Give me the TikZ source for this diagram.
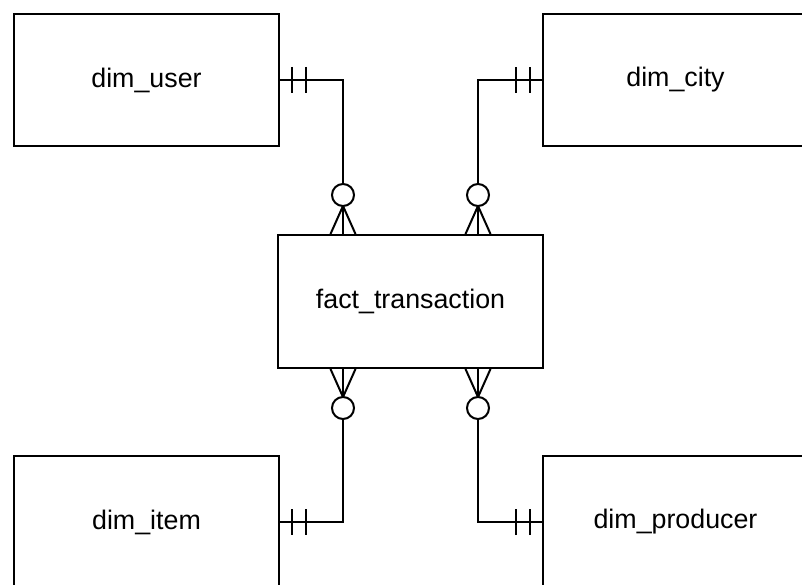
\documentclass[tikz,border=0pt]{standalone}
\usepackage{fontspec}
\setmainfont{Liberation Sans}
\usepackage{tikz}
\usetikzlibrary{calc}

\tikzset{
  table/.style={draw, line width=2pt, minimum width=265pt, minimum height=132pt,
    font=\fontsize{26.8}{32}\selectfont},
  onebar/.pic={
    \draw (12,-13) -- (12,13);
    \draw (26,-13) -- (26,13);
  },
  zeromany/.pic={
    \draw (0,-12.5) -- (28,0) -- (0,12.5);
    \draw (0,0) -- (28,0);
    \draw[fill=white] (39,0) circle (11);
  },
}

\begin{document}
\begin{tikzpicture}[x=1pt, y=-1pt, line width=2pt]
                \useasboundingbox (0,0) rectangle (802,585);
                \node[table] (user) at (146.5,80) {dim\_user};
                \node[table] (city) at (675.5,80) {dim\_city};
                \node[table, minimum height=133pt] (fact) at (410.5,301.5) {fact\_transaction};
                \node[table] (item) at (146.5,522) {dim\_item};
                \node[table] (producer) at (675.5,522) {dim\_producer};
                % where the links meet the fact table
                \coordinate (ftl) at ($(fact.north west)+(66,0)$);
                \coordinate (ftr) at ($(fact.north east)+(-66,0)$);
                \coordinate (fbl) at ($(fact.south west)+(66,0)$);
                \coordinate (fbr) at ($(fact.south east)+(-66,0)$);
                \draw (user.east) -| (ftl);
                \draw (city.west) -| (ftr);
                \draw (item.east) -| (fbl);
                \draw (producer.west) -| (fbr);
                % one side
                \pic at (user.east) {onebar};
                \pic[rotate=180] at (city.west) {onebar};
                \pic at (item.east) {onebar};
                \pic[rotate=180] at (producer.west) {onebar};
                % many side
                \pic[rotate=90] at (ftl) {zeromany};
                \pic[rotate=90] at (ftr) {zeromany};
                \pic[rotate=-90] at (fbl) {zeromany};
                \pic[rotate=-90] at (fbr) {zeromany};
            \end{tikzpicture}
\end{document}
